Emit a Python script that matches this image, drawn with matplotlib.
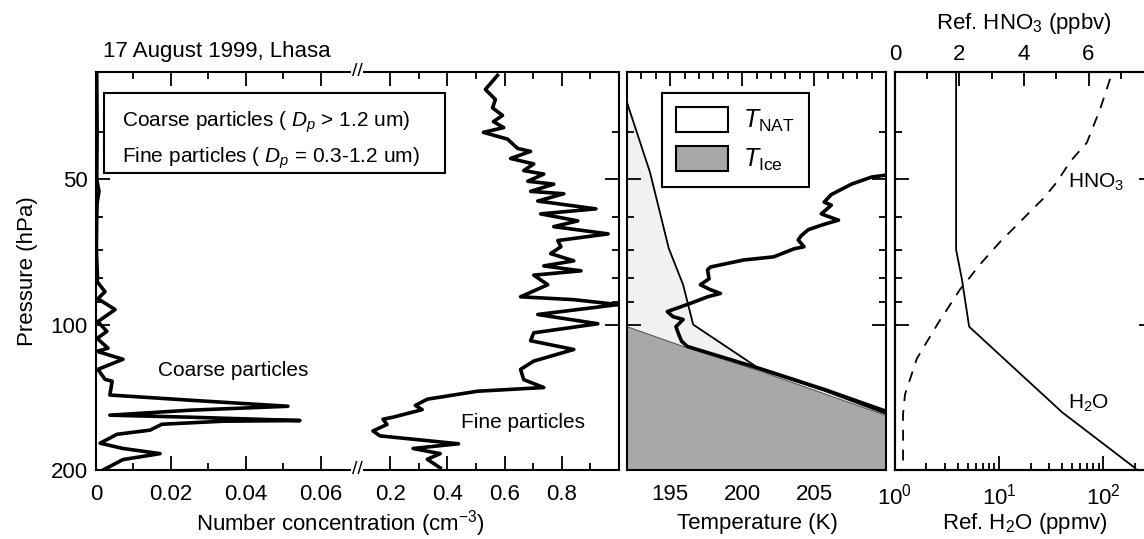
import numpy as np
import matplotlib
matplotlib.use('Agg')
import matplotlib.pyplot as plt
from matplotlib.patches import Rectangle, Patch
from matplotlib.ticker import FixedLocator, NullFormatter, FuncFormatter, LogLocator, MultipleLocator

plt.rcParams['font.family'] = ['Liberation Sans', 'DejaVu Sans']
plt.rcParams['mathtext.fontset'] = 'custom'
plt.rcParams['mathtext.rm'] = 'Liberation Sans'
plt.rcParams['mathtext.it'] = 'Liberation Sans:italic'
plt.rcParams['mathtext.bf'] = 'Liberation Sans:bold'

# ---------------- data ----------------
coarse_p = [30, 40, 50, 53, 56, 60, 70, 80, 81.5, 85.5, 88.4, 93.1, 98.6, 103.3, 106.8, 111.9, 113.6,
            118.0, 123.8, 129.8, 131, 139.9, 143.4, 147.6, 150.4, 154.0, 155.5, 158, 158.5,
            160.8, 165.4, 168.7, 176, 180.5, 185, 190.3, 200]
coarse_n = [0.0002, 0.0003, 0.0002, 0.0008, 0.0003, 0.0002, 0.0001, 0.0004, 0.0003, 0.0024, 0.0005,
            0.0051, 0.0005, 0.0029, 0.0003, 0.0032, 0.0003, 0.0072, 0.0005, 0.0024, 0.0043,
            0.0037, 0.0251, 0.0512, 0.0251, 0.0037, 0.0251, 0.0544, 0.0339, 0.0176, 0.0144,
            0.0056, 0.0011, 0.0072, 0.0171, 0.0072, 0.0019]

fine_p = [30.5, 32.6, 34.2, 35.6, 36.9, 38, 39.1, 40, 41.3, 43.2, 43.8, 45.3, 46.5, 48, 48.8, 50.5,
          51.2, 53, 53.6, 55.5, 57.6, 59, 61, 62.7, 64.9, 67, 69, 71.3, 73.8, 75.6, 77.4, 79,
          82.7, 87.6, 88.8, 90.9, 95.3, 99.6, 104, 108, 112.6, 119, 123.8, 130, 135, 137.4,
          142.7, 147, 150, 155.5, 157, 161, 166, 170, 176.5, 180.5, 185, 190, 198]
fine_n = [0.575, 0.533, 0.568, 0.558, 0.593, 0.561, 0.597, 0.526, 0.61, 0.646, 0.691, 0.621, 0.702,
          0.667, 0.737, 0.681, 0.772, 0.691, 0.807, 0.716, 0.919, 0.726, 0.856, 0.772, 0.962,
          0.786, 0.797, 0.761, 0.842, 0.737, 0.867, 0.702, 0.751, 0.656, 0.842, 0.997, 0.716,
          0.926, 0.702, 0.691, 0.842, 0.702, 0.656, 0.667, 0.737, 0.505, 0.33, 0.288, 0.312,
          0.21, 0.175, 0.189, 0.14, 0.165, 0.439, 0.28, 0.375, 0.33, 0.375]

temp_p = [48.5, 49, 49.5, 51.2, 53.8, 55.8, 56.6, 59, 60.8, 62, 63.6, 65.5, 66.8, 69, 69.7, 72.4,
          73.5, 76, 77, 80.4, 82.7, 84.7, 86.2, 87.6, 90.4, 94, 96.3, 97.6, 101, 104.9, 108.3,
          111, 123.5, 136.5, 153]
temp_T = [211, 210.1, 209.0, 207.6, 206.2, 205.7, 206.2, 205.5, 206.7, 205.7, 204.6, 204.1, 203.9,
          204.3, 203.6, 202.2, 200.1, 197.8, 197.6, 197.7, 197.1, 197.8, 198.5, 197.6, 196.4,
          194.8, 195.2, 195.9, 195.4, 195.6, 195.8, 196.2, 201.3, 205.8, 210.5]

nat_p = [30, 34.7, 48.4, 69.5, 82.7, 100, 124, 137, 155, 200]
nat_T = [191.3, 192.0, 193.6, 194.9, 195.9, 196.6, 201.3, 205.7, 210.5, 221.5]

ice_p = [96, 101, 111, 125, 155, 200]
ice_T = [190.0, 192.0, 195.9, 201.3, 210.2, 221.0]

h2o_p = [30, 70, 80.8, 101, 152, 197, 200]
h2o_v = [3.86, 3.86, 4.4, 5.15, 40.4, 195, 210]

hno3_p = [31, 35.8, 42, 46, 50.7, 54.9, 60.4, 67.4, 75, 80.8, 84.5, 99.5, 117.5, 139.5, 153, 200]
hno3_v = [6.67, 6.36, 5.95, 5.43, 5.02, 4.59, 3.97, 3.26, 2.64, 2.26, 2.02, 1.33, 0.68, 0.31, 0.25, 0.25]

# ---------------- layout ----------------
W, H = 1144, 539
fig = plt.figure(figsize=(W / 100, H / 100), dpi=100)


def rect(x0, x1, y0=72, y1=470):
    return [x0 / W, 1 - y1 / H, (x1 - x0) / W, (y1 - y0) / H]


def fx(x):
    return x / W


def fy(y):
    return 1 - y / H


FS = 16
LW_SP = 1.5

ax1 = fig.add_axes(rect(96, 358))
ax2 = fig.add_axes(rect(358, 619), sharey=ax1)
ax3 = fig.add_axes(rect(627, 886), sharey=ax1)
ax4 = fig.add_axes(rect(895, 1153), sharey=ax1)

ax1.set_yscale('log')
ax1.set_ylim(200, 30)
ax1.yaxis.set_major_locator(FixedLocator([50, 100, 200]))
ax1.yaxis.set_minor_locator(FixedLocator([30, 40, 60, 70, 80, 90]))
ax1.yaxis.set_major_formatter(FuncFormatter(lambda v, p: f"{v:g}"))
ax1.yaxis.set_minor_formatter(NullFormatter())

for ax in (ax1, ax2, ax3, ax4):
    for s in ax.spines.values():
        s.set_linewidth(LW_SP)
    ax.tick_params(which='both', direction='in', top=True, bottom=True, left=True, right=True,
                   labelsize=FS, width=1.3, pad=10)
    ax.tick_params(which='major', length=10)
    ax.tick_params(which='minor', length=5)
ax1.tick_params(axis='y', pad=6)

# left panel, coarse segment
ax1.spines['right'].set_visible(False)
ax1.tick_params(which='both', right=False)
ax1.set_xlim(0, 0.0699)
ax1.xaxis.set_major_locator(FixedLocator([0, 0.02, 0.04, 0.06]))
ax1.xaxis.set_minor_locator(FixedLocator([0.01, 0.03, 0.05]))
ax1.xaxis.set_major_formatter(FuncFormatter(lambda v, p: '0' if abs(v) < 1e-9 else f"{v:.2f}"))
ax1.plot(coarse_n, coarse_p, color='black', lw=2.6)

# left panel, fine segment
ax2.spines['left'].set_visible(False)
ax2.tick_params(which='both', left=False, labelleft=False)
ax2.set_xlim(0.0877, 1.0)
ax2.xaxis.set_major_locator(FixedLocator([0.2, 0.4, 0.6, 0.8]))
ax2.xaxis.set_minor_locator(FixedLocator([0.3, 0.5, 0.7, 0.9]))
ax2.xaxis.set_major_formatter(FuncFormatter(lambda v, p: f"{v:.1f}"))
ax2.plot(fine_n, fine_p, color='black', lw=2.6)

# break marks
for yb in (72, 470):
    fig.text(fx(357), fy(yb), '//', ha='center', va='center', fontsize=14,
             bbox=dict(facecolor='white', edgecolor='none', pad=0.5), zorder=10)

# legend-like text box
fig.patches.append(Rectangle((fx(104), fy(173)), fx(445) - fx(104), fy(93) - fy(173),
                             transform=fig.transFigure, facecolor='white', edgecolor='black',
                             lw=1.5, zorder=5))
fig.text(fx(122), fy(122), 'Coarse particles ( $D_p$ > 1.2 um)', fontsize=15, va='center', zorder=6)
fig.text(fx(122), fy(158), 'Fine particles ( $D_p$ = 0.3-1.2 um)', fontsize=15, va='center', zorder=6)

fig.text(fx(233), fy(370), 'Coarse particles', fontsize=15, ha='center', va='center')
fig.text(fx(523), fy(423), 'Fine particles', fontsize=15, ha='center', va='center')

# middle panel
ax3.tick_params(which='both', labelleft=False)
ax3.set_xlim(192, 210)
ax3.xaxis.set_major_locator(FixedLocator([195, 200, 205]))
ax3.xaxis.set_minor_locator(MultipleLocator(1))
ax3.fill_betweenx(nat_p, 192, nat_T, color='#f1f1f1', lw=0, zorder=1)
ax3.fill_betweenx(ice_p, 180, ice_T, color='#a8a8a8', lw=0, zorder=2)
ax3.plot(nat_T, nat_p, color='black', lw=1.3, zorder=3)
ax3.plot(ice_T, ice_p, color='#555555', lw=0.8, zorder=3)
ax3.plot(temp_T, temp_p, color='black', lw=2.6, zorder=4)
leg = ax3.legend(handles=[Patch(facecolor='white', edgecolor='black', lw=1.5, label=r'$T_{\rm NAT}$'),
                          Patch(facecolor='#a8a8a8', edgecolor='black', lw=1.5, label=r'$T_{\rm Ice}$')],
                 loc='upper left', bbox_to_anchor=(0.135, 0.947), borderaxespad=0, fontsize=18,
                 fancybox=False, edgecolor='black', framealpha=1, handlelength=2.1, handleheight=1.2,
                 labelspacing=0.45, borderpad=0.55, handletextpad=0.6)
leg.get_frame().set_linewidth(1.5)
leg.set_zorder(10)
for s in ax3.spines.values():
    s.set_zorder(11)

# right panel
ax4.tick_params(which='both', labelleft=False)
ax4.set_xscale('log')
ax4.set_xlim(1, 300)
ax4.xaxis.set_major_locator(LogLocator(base=10, numticks=10))
ax4.xaxis.set_minor_locator(LogLocator(base=10, subs=np.arange(2, 10), numticks=20))
ax4.xaxis.set_minor_formatter(NullFormatter())
ax4.tick_params(which='both', top=False)
ax4.plot(h2o_v, h2o_p, color='black', lw=1.3)

ax4t = ax4.twiny()
ax4t.set_xlim(0, 8)
ax4t.xaxis.set_major_locator(MultipleLocator(2))
ax4t.xaxis.set_minor_locator(MultipleLocator(1))
ax4t.xaxis.set_major_formatter(FuncFormatter(lambda v, p: '' if v > 7 else f"{v:g}"))
ax4t.tick_params(which='both', direction='in', labelsize=FS, width=1.3, pad=5)
ax4t.tick_params(which='major', length=10)
ax4t.tick_params(which='minor', length=5)
for s in ax4t.spines.values():
    s.set_linewidth(LW_SP)
ax4t.plot(hno3_v, hno3_p, color='black', lw=1.3, linestyle=(0, (6, 5)))

fig.text(fx(1068), fy(182), 'HNO$_3$', fontsize=15, va='center')
fig.text(fx(1068), fy(403), 'H$_2$O', fontsize=15, va='center')

# shared texts
fig.text(fx(103), fy(52), '17 August 1999, Lhasa', fontsize=FS, va='center')
fig.text(fx(340), fy(524), 'Number concentration (cm$^{-3}$)', fontsize=FS, ha='center', va='center')
fig.text(fx(757), fy(523), 'Temperature (K)', fontsize=FS, ha='center', va='center')
fig.text(fx(1025), fy(523), 'Ref. H$_2$O (ppmv)', fontsize=FS, ha='center', va='center')
fig.text(fx(1024), fy(23), 'Ref. HNO$_3$ (ppbv)', fontsize=FS, ha='center', va='center')
fig.text(fx(28), fy(271), 'Pressure (hPa)', fontsize=FS, ha='center', va='center', rotation=90)

fig.savefig('out.png', dpi=100)
